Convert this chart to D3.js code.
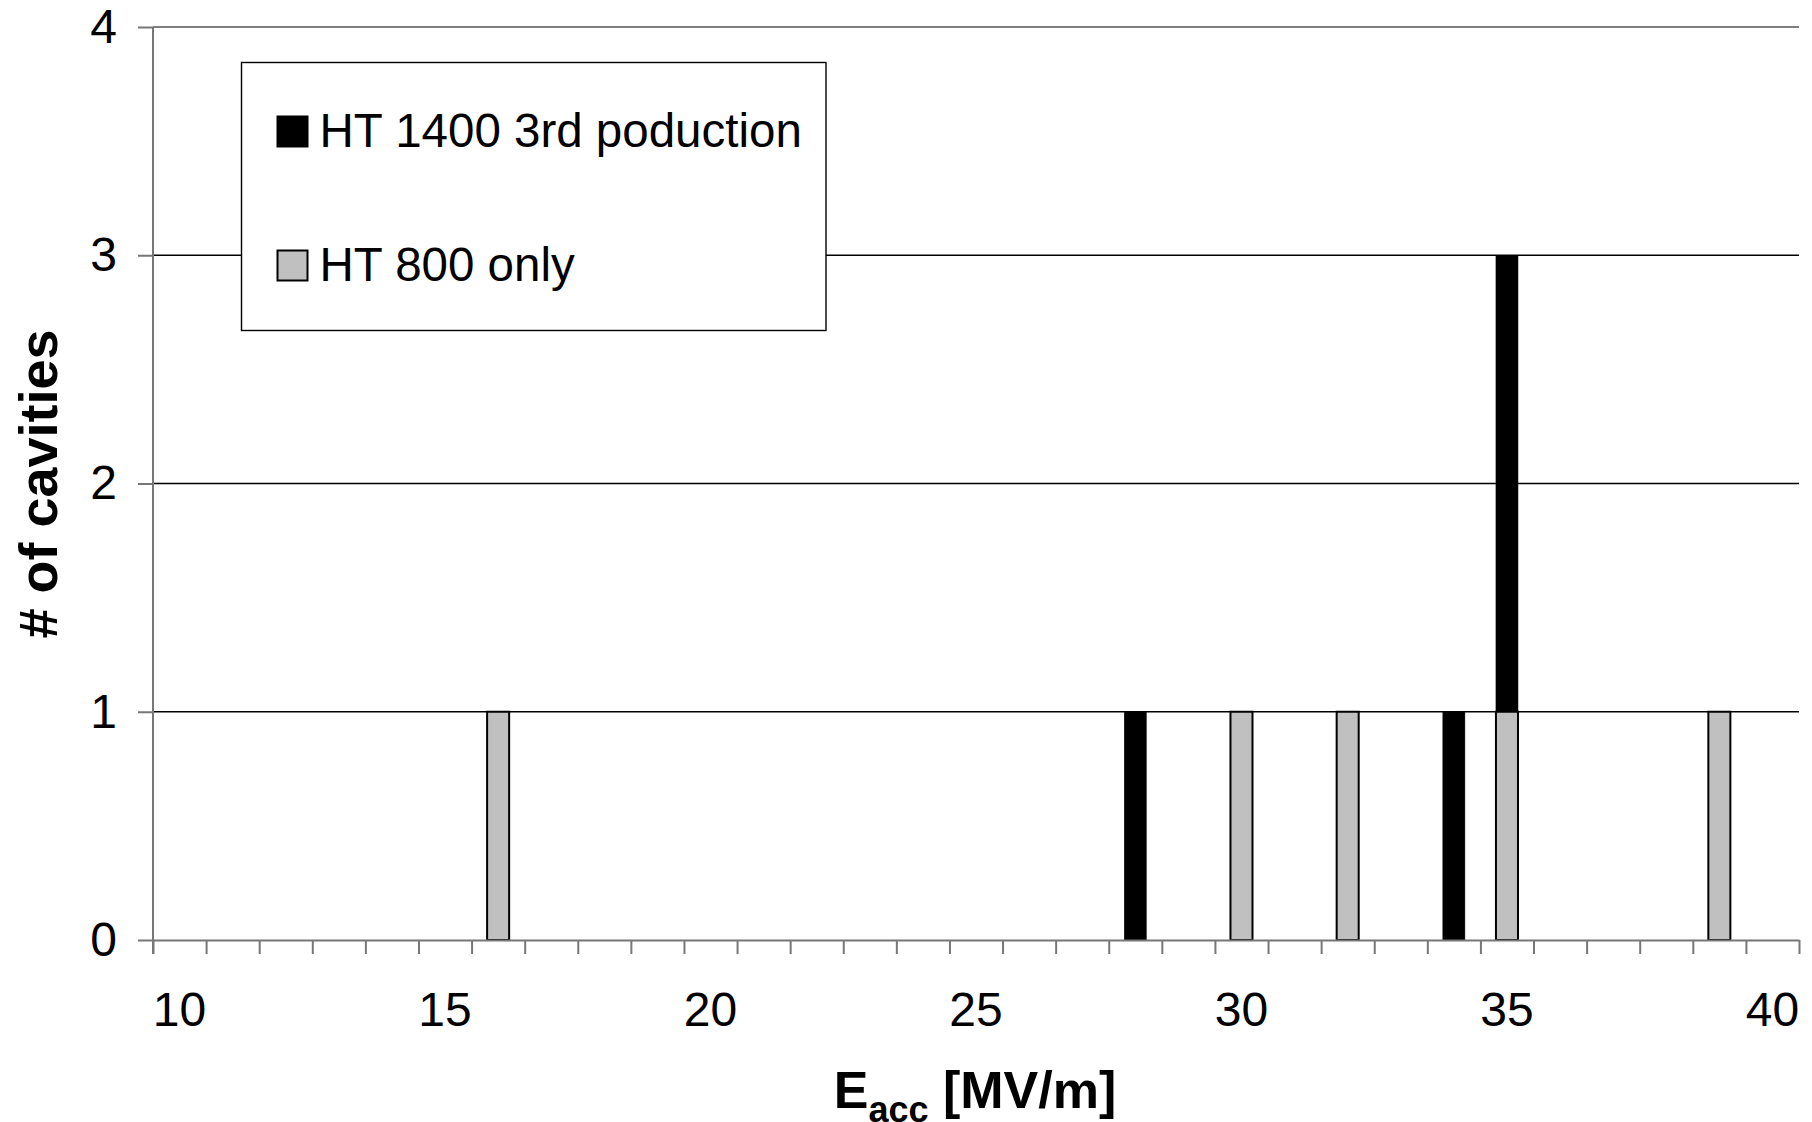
<!DOCTYPE html>
<html>
<head>
<meta charset="utf-8">
<script src="https://cdn.jsdelivr.net/npm/d3@7"></script>
<style>
  body { margin: 0; background: #fff; }
  text { font-family: "Liberation Sans", Arial, sans-serif; }
</style>
</head>
<body>
<div id="chart"></div>
<script>
const width = 1812;
const height = 1122;

// E_acc bins (MV/m)
const categories = [10, 11, 12, 13, 14, 15, 16, 17, 18, 19, 20, 21, 22, 23, 24, 25,
  26, 27, 28, 29, 30, 31, 32, 33, 34, 35, 36, 37, 38, 39, 40];
// HT 800 only (bottom of stack)
const ht800 = [0, 0, 0, 0, 0, 0, 1, 0, 0, 0, 0, 0, 0, 0, 0, 0,
  0, 0, 0, 0, 1, 0, 1, 0, 0, 1, 0, 0, 0, 1, 0];
// HT 1400 3rd poduction (top of stack)
const ht1400 = [0, 0, 0, 0, 0, 0, 0, 0, 0, 0, 0, 0, 0, 0, 0, 0,
  0, 0, 1, 0, 0, 0, 0, 0, 1, 2, 0, 0, 0, 0, 0];
const xTickLabels = [10, 15, 20, 25, 30, 35, 40];
const yTicks = [0, 1, 2, 3, 4];
const seriesNames = ["HT 1400 3rd poduction", "HT 800 only"];

const svg = d3.select("#chart").append("svg").attr("width", width).attr("height", height);

const plot = { left: 153, right: 1799, top: 27, bottom: 940 };

const x = d3.scaleBand().domain(categories).range([plot.left, plot.right])
  .paddingInner(0.585).paddingOuter(0.2925);
const xEdge = d3.scaleLinear().domain([0, categories.length]).range([plot.left, plot.right]);
const y = d3.scaleLinear().domain([0, 4]).range([plot.bottom, plot.top]);

const table = categories.map((c, i) => ({ cat: c, ht800: ht800[i], ht1400: ht1400[i] }));
const stacked = d3.stack().keys(["ht800", "ht1400"])(table);

// gridlines
svg.append("g")
  .selectAll("line")
  .data(yTicks.filter((d) => d > 0))
  .join("line")
  .attr("x1", plot.left).attr("x2", plot.right)
  .attr("y1", (d) => y(d)).attr("y2", (d) => y(d))
  .attr("stroke", (d) => (d === 4 ? "#555" : "#000"))
  .attr("stroke-width", 1.4);

// bars
const fills = { ht800: "#c0c0c0", ht1400: "#000" };
svg.append("g")
  .selectAll("g")
  .data(stacked)
  .join("g")
  .selectAll("rect")
  .data((s) => s.filter((d) => d[1] > d[0]).map((d) => ({ key: s.key, d })))
  .join("rect")
  .attr("x", (o) => x(o.d.data.cat))
  .attr("width", x.bandwidth())
  .attr("y", (o) => y(o.d[1]))
  .attr("height", (o) => y(o.d[0]) - y(o.d[1]))
  .attr("fill", (o) => fills[o.key])
  .attr("stroke", "#000")
  .attr("stroke-width", (o) => (o.key === "ht800" ? 2 : 0.5));

// x axis: ticks at bin edges, labels at centers
svg.append("g")
  .attr("transform", `translate(0,${plot.bottom})`)
  .call(d3.axisBottom(xEdge).tickValues(d3.range(0, categories.length + 1))
    .tickSize(14).tickSizeOuter(0).tickFormat(""))
  .call((g) => g.selectAll("line, path").attr("stroke", "#777").attr("stroke-width", 2));

svg.append("g")
  .attr("transform", `translate(0,${plot.bottom})`)
  .call(d3.axisBottom(x).tickValues(xTickLabels).tickSize(0).tickPadding(52))
  .call((g) => g.select(".domain").remove())
  .call((g) => g.selectAll("text").attr("font-size", 48).attr("fill", "#000")
    .attr("font-family", "'Liberation Sans', Arial, sans-serif"));

// y axis
svg.append("g")
  .attr("transform", `translate(${plot.left},0)`)
  .call(d3.axisLeft(y).tickValues(yTicks).tickSize(15).tickSizeOuter(0).tickPadding(21).tickFormat(d3.format("d")))
  .call((g) => g.selectAll("line, path").attr("stroke", "#777").attr("stroke-width", 2))
  .call((g) => g.select(".domain").attr("d", `M0,${plot.top}V${plot.bottom + 14}`))
  .call((g) => g.selectAll("text").attr("font-size", 48).attr("fill", "#000")
    .attr("font-family", "'Liberation Sans', Arial, sans-serif"));

// legend
const legend = svg.append("g").attr("transform", "translate(241.5,62.5)");
legend.append("rect")
  .attr("width", 584.5).attr("height", 268)
  .attr("fill", "#fff").attr("stroke", "#000").attr("stroke-width", 1.4);
const legendFills = ["#000", "#c0c0c0"];
const items = legend.selectAll("g.item")
  .data(seriesNames)
  .join("g")
  .attr("class", "item")
  .attr("transform", (d, i) => `translate(36,${54 + i * 134})`);
items.append("rect")
  .attr("width", 30).attr("height", 30)
  .attr("fill", (d, i) => legendFills[i])
  .attr("stroke", "#000").attr("stroke-width", 2);
items.append("text")
  .attr("x", 42).attr("y", 30.5)
  .attr("font-size", 47.5)
  .text((d) => d);

// axis titles
const xt = svg.append("text")
  .attr("x", 975).attr("y", 1108)
  .attr("text-anchor", "middle")
  .attr("font-size", 52).attr("font-weight", "bold");
xt.append("tspan").text("E");
xt.append("tspan").attr("font-size", 36).attr("dy", 14).text("acc");
xt.append("tspan").attr("dy", -14).text(" [MV/m]");

svg.append("text")
  .attr("transform", "translate(57,484) rotate(-90)")
  .attr("text-anchor", "middle")
  .attr("font-size", 54).attr("font-weight", "bold")
  .text("# of cavities");
</script>
</body>
</html>
